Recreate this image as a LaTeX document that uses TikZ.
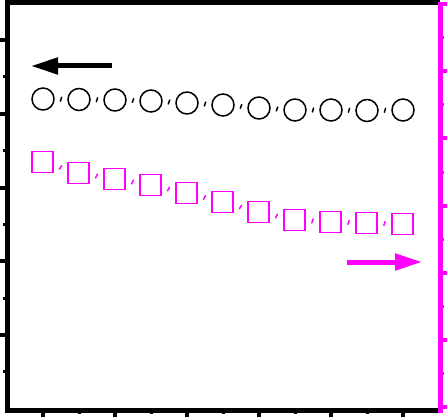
\documentclass[tikz,border=0pt]{standalone}
\usetikzlibrary{arrows.meta,decorations.markings}
\definecolor{mag}{RGB}{255,0,255}
\begin{document}
\begin{tikzpicture}[x=1pt,y=-1pt,
  circ/.style={circle,draw=black,line width=1.5pt,minimum size=22pt,inner sep=0pt},
  sq/.style={rectangle,draw=mag,line width=1.3pt,minimum size=21pt,inner sep=0pt},
  clink/.style={postaction={decorate},decoration={markings,
     mark=at position 0.5 with {\draw[black,line width=1.5pt,line cap=round] (0.6,-2) -- (-0.6,2);}}},
  slink/.style={postaction={decorate},decoration={markings,
     mark=at position 0.5 with {\draw[mag,line width=1.5pt,line cap=round] (0.6,-2) -- (-0.6,2);}}},
  axisk/.style={black,line width=5pt},
  axism/.style={mag,line width=5pt},
  majk/.style={black,line width=4pt},
  mink/.style={black,line width=3pt},
  majm/.style={mag,line width=4pt},
  minm/.style={mag,line width=3pt},
  bigarrow/.style={line width=5pt,-{Triangle[length=27pt,width=16pt]}}]
\useasboundingbox (0,0) rectangle (447,417);
% frame
\draw[axisk] (5,2.5) -- (440,2.5);
\draw[axisk] (7.5,0) -- (7.5,412.5);
\draw[axisk] (5,410) -- (442,410);
% left ticks
\foreach \k in {0,...,4} \draw[majk] (0,{40+73.75*\k}) -- (8,{40+73.75*\k});
\foreach \k in {0,...,4} \draw[mink] (3,{76.9+73.75*\k}) -- (8,{76.9+73.75*\k});
% bottom ticks
\foreach \k in {0,...,5} \draw[majk] ({43+72*\k},410) -- ({43+72*\k},417);
\foreach \k in {0,...,4} \draw[mink] ({79+72*\k},410) -- ({79+72*\k},414);
% right axis
\draw[axism] (440,2) -- (440,412.5);
\foreach \k in {0,...,6} \draw[majm] (440,{4+67.2*\k}) -- (447,{4+67.2*\k});
\foreach \k in {0,...,5} \draw[minm] (440,{37.6+67.2*\k}) -- (444,{37.6+67.2*\k});
% circles
\foreach \y [count=\i] in {99,99.5,100,101,103,105,108,110,110,110.5,110}
  \node[circ] (c\i) at ({7+36*\i},\y) {};
\foreach \i in {1,...,10} {
  \pgfmathtruncatemacro\j{\i+1}
  \path[clink] (c\i) -- (c\j);
}
% squares
\foreach \y [count=\i] in {162,173,179,185,193,202,212,220,222,223,224}
  \node[sq] (s\i) at ({6.5+36*\i},\y) {};
\foreach \i in {1,...,10} {
  \pgfmathtruncatemacro\j{\i+1}
  \path[slink] (s\i) -- (s\j);
}
% arrows
\coordinate (la0) at (112,66);
\coordinate (la1) at (31,66);
\draw[bigarrow,black] (la0) -- (la1);
\coordinate (ra0) at (347,262);
\coordinate (ra1) at (422,262);
\draw[bigarrow,mag] (ra0) -- (ra1);
\end{tikzpicture}
\end{document}
